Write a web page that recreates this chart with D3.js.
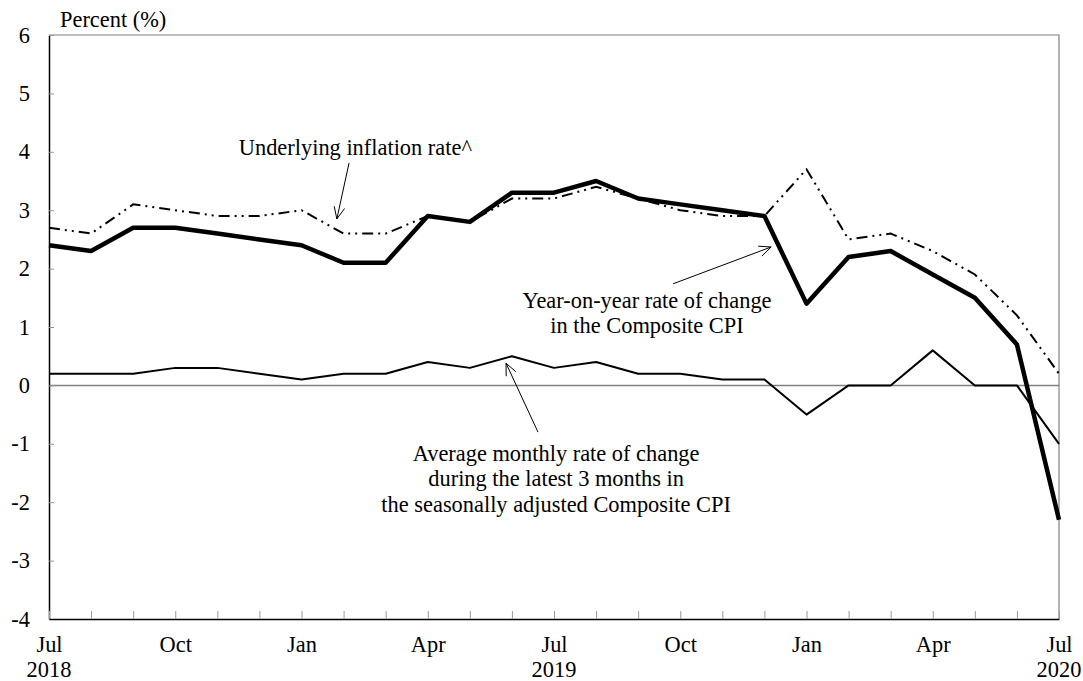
<!DOCTYPE html>
<html>
<head>
<meta charset="utf-8">
<script src="https://cdn.jsdelivr.net/npm/d3@7"></script>
<style>
  body { margin: 0; background: #fff; }
  svg text { font-family: "Liberation Serif", "Times New Roman", serif; fill: #000; }
</style>
</head>
<body>
<svg id="chart" width="1083" height="681"></svg>
<script>
// months Jul 2018 .. Jul 2020
const months = ["Jul","Aug","Sep","Oct","Nov","Dec","Jan","Feb","Mar","Apr","May","Jun",
                "Jul","Aug","Sep","Oct","Nov","Dec","Jan","Feb","Mar","Apr","May","Jun","Jul"];
const monthLabels = ["Jul","","","Oct","","","Jan","","","Apr","","",
                     "Jul","","","Oct","","","Jan","","","Apr","","","Jul"];
const yearLabels = [[0, "2018"], [12, "2019"], [24, "2020"]];
const yTicks = [-4, -3, -2, -1, 0, 1, 2, 3, 4, 5, 6];

// Year-on-year rate of change in the Composite CPI
const composite = [2.4, 2.3, 2.7, 2.7, 2.6, 2.5, 2.4, 2.1, 2.1, 2.9, 2.8, 3.3,
                   3.3, 3.5, 3.2, 3.1, 3.0, 2.9, 1.4, 2.2, 2.3, 1.9, 1.5, 0.7, -2.3];
// Underlying inflation rate
const underlying = [2.7, 2.6, 3.1, 3.0, 2.9, 2.9, 3.0, 2.6, 2.6, 2.9, 2.8, 3.2,
                    3.2, 3.4, 3.2, 3.0, 2.9, 2.9, 3.7, 2.5, 2.6, 2.3, 1.9, 1.2, 0.2];
// Average monthly rate of change, latest 3 months, seasonally adjusted
const monthlyAvg = [0.2, 0.2, 0.2, 0.3, 0.3, 0.2, 0.1, 0.2, 0.2, 0.4, 0.3, 0.5,
                    0.3, 0.4, 0.2, 0.2, 0.1, 0.1, -0.5, 0.0, 0.0, 0.6, 0.0, 0.0, -1.0];

// annotations in data units: [index, value]
const notes = [
  { lines: ["Underlying inflation rate^"], at: [7.28, 3.95], tail: [7.13, 3.81], tip: [6.84, 2.85] },
  { lines: ["Year-on-year rate of change", "in the Composite CPI"], at: [14.21, 1.33], tail: [14.83, 1.74], tip: [17.16, 2.37] },
  { lines: ["Average monthly rate of change", "during the latest 3 months in", "the seasonally adjusted Composite CPI"],
    at: [12.05, -1.29], tail: [11.62, -0.80], tip: [10.86, 0.38] }
];

const fontSize = "22.4px";
const svg = d3.select("#chart");
const margin = { left: 49, right: 1059, top: 35, bottom: 619 };

const x = d3.scaleLinear().domain([0, months.length - 1]).range([margin.left, margin.right]);
const y = d3.scaleLinear().domain([-4, 6]).range([margin.bottom, margin.top]);

// frame top / right (grey)
svg.append("path")
    .attr("d", `M${margin.left},${margin.top}H${margin.right}V${margin.bottom}`)
    .attr("fill", "none")
    .attr("stroke", "#808080")
    .attr("stroke-width", 1.2);

// zero line
svg.append("line")
    .attr("x1", x(0)).attr("x2", x(months.length - 1))
    .attr("y1", y(0)).attr("y2", y(0))
    .attr("stroke", "#808080")
    .attr("stroke-width", 1.5);

// y axis
const yAxis = svg.append("g")
    .attr("transform", `translate(${margin.left},0)`)
    .call(d3.axisLeft(y).tickValues(yTicks).tickFormat(d => String(d))
        .tickSizeInner(-5).tickSizeOuter(0).tickPadding(19));
yAxis.select(".domain").attr("stroke", "#000").attr("stroke-width", 1.5);
yAxis.selectAll(".tick line").attr("stroke", "#999");
yAxis.selectAll("text").style("font-size", fontSize).attr("font-family", null);

// x axis
const xAxis = svg.append("g")
    .attr("transform", `translate(0,${margin.bottom})`)
    .call(d3.axisBottom(x).tickValues(d3.range(months.length))
        .tickFormat(i => monthLabels[i])
        .tickSizeInner(-8).tickSizeOuter(0).tickPadding(17));
xAxis.select(".domain").attr("stroke", "#000").attr("stroke-width", 1.5);
xAxis.selectAll(".tick line").attr("stroke", "#999");
xAxis.selectAll("text").style("font-size", fontSize).attr("font-family", null);

svg.append("g").selectAll("text")
    .data(yearLabels)
    .enter().append("text")
    .attr("x", d => x(d[0]))
    .attr("y", margin.bottom + 58)
    .attr("text-anchor", "middle")
    .style("font-size", fontSize)
    .text(d => d[1]);

// axis title
svg.append("text")
    .attr("x", 60).attr("y", 27)
    .style("font-size", fontSize)
    .text("Percent (%)");

// series
const line = d3.line().x((d, i) => x(i)).y(d => y(d));

svg.append("path").datum(monthlyAvg)
    .attr("d", line).attr("fill", "none")
    .attr("stroke", "#000").attr("stroke-width", 2)
    .attr("stroke-linejoin", "round");

svg.append("path").datum(underlying)
    .attr("d", line).attr("fill", "none")
    .attr("stroke", "#000").attr("stroke-width", 2)
    .attr("stroke-dasharray", "11,5,2,5,2,5");

svg.append("path").datum(composite)
    .attr("d", line).attr("fill", "none")
    .attr("stroke", "#000").attr("stroke-width", 4.5)
    .attr("stroke-linejoin", "round");

// annotations
const ann = svg.append("g");
notes.forEach(n => {
  const t = ann.append("text")
      .attr("x", x(n.at[0])).attr("y", y(n.at[1]))
      .attr("text-anchor", "middle")
      .style("font-size", fontSize);
  n.lines.forEach((s, k) => {
    t.append("tspan").attr("x", x(n.at[0])).attr("dy", k === 0 ? 0 : 25.5).text(s);
  });

  const x0 = x(n.tail[0]), y0 = y(n.tail[1]);
  const x1 = x(n.tip[0]), y1 = y(n.tip[1]);
  const a = Math.atan2(y1 - y0, x1 - x0);
  const len = 13, spread = 0.42;
  ann.append("path")
      .attr("d", `M${x0},${y0}L${x1},${y1}` +
        `M${x1 - len * Math.cos(a - spread)},${y1 - len * Math.sin(a - spread)}L${x1},${y1}` +
        `L${x1 - len * Math.cos(a + spread)},${y1 - len * Math.sin(a + spread)}`)
      .attr("fill", "none").attr("stroke", "#000").attr("stroke-width", 1);
});
</script>
</body>
</html>
